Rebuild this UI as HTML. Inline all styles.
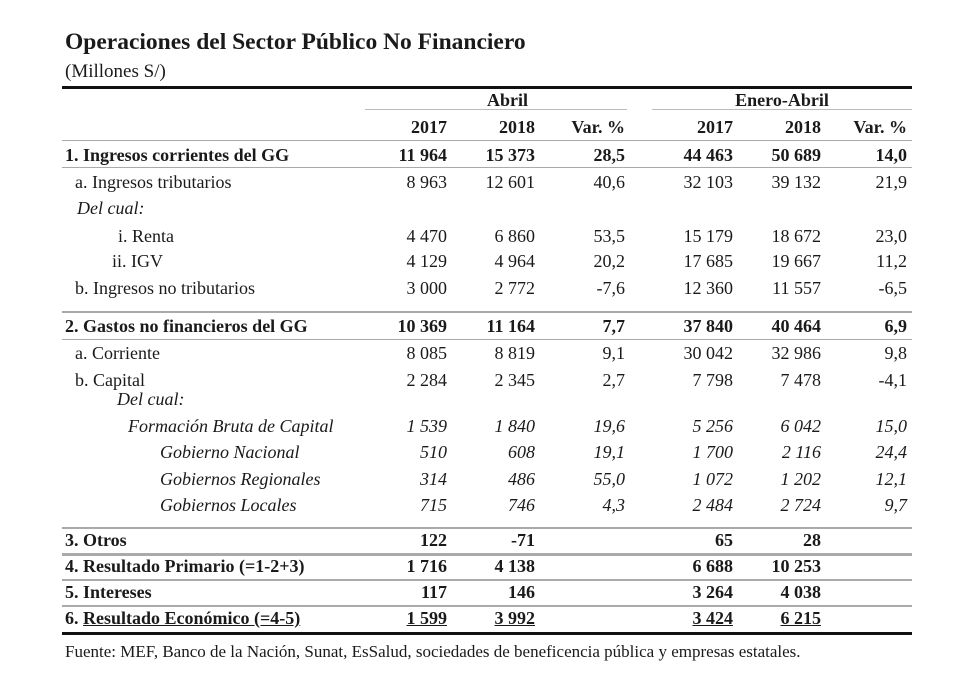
<!DOCTYPE html>
<html><head><meta charset="utf-8">
<style>
body{margin:0;background:#fff;}
#wrap{position:relative;width:980px;height:683px;background:#fff;font-family:"Liberation Serif",serif;color:#1a1a1a;overflow:hidden;}
.t{position:absolute;white-space:nowrap;font-size:18px;line-height:20px;}
.r{text-align:right;width:140px;}
.b{font-weight:bold;}
.i{font-style:italic;}
.u{text-decoration:underline;}
.ln{position:absolute;left:62px;width:850px;background:#aaa;height:2px;}
</style></head><body>
<div id="wrap">
<div class="t b" style="left:65px;top:30px;font-size:23.5px;line-height:24px">Operaciones del Sector Público No Financiero</div>
<div class="t" style="left:65px;top:62px;font-size:19px">(Millones S/)</div>
<div class="ln" style="top:86px;height:3px;background:#111"></div>
<div class="t b" style="left:365px;width:285px;text-align:center;top:90px">Abril</div>
<div class="ln" style="top:109px;left:365px;width:262px;height:1px;background:#bbb"></div>
<div class="t b" style="left:652px;width:260px;text-align:center;top:90px">Enero-Abril</div>
<div class="ln" style="top:109px;left:652px;width:260px;height:1px;background:#bbb"></div>
<div class="ln" style="top:632px;height:3px;background:#111"></div>
<div class="t" style="left:65px;top:642px;font-size:17px">Fuente: MEF, Banco de la Nación, Sunat, EsSalud, sociedades de beneficencia pública y empresas estatales.</div>
</div>
<script>
const colRight=[447,535,625,733,821,907];
const headerYears=['2017','2018','Var. %','2017','2018','Var. %'];
const rowLabels=['1. Ingresos corrientes del GG','a. Ingresos tributarios','Del cual:','i. Renta','ii. IGV','b. Ingresos no tributarios','2. Gastos no financieros del GG','a. Corriente','b. Capital','Del cual:','Formación Bruta de Capital','Gobierno Nacional','Gobiernos Regionales','Gobiernos Locales','3. Otros','4. Resultado Primario (=1-2+3)','5. Intereses','6. Resultado Económico (=4-5)'];
const rowValues=[
['11 964','15 373','28,5','44 463','50 689','14,0'],
['8 963','12 601','40,6','32 103','39 132','21,9'],
['','','','','',''],
['4 470','6 860','53,5','15 179','18 672','23,0'],
['4 129','4 964','20,2','17 685','19 667','11,2'],
['3 000','2 772','-7,6','12 360','11 557','-6,5'],
['10 369','11 164','7,7','37 840','40 464','6,9'],
['8 085','8 819','9,1','30 042','32 986','9,8'],
['2 284','2 345','2,7','7 798','7 478','-4,1'],
['','','','','',''],
['1 539','1 840','19,6','5 256','6 042','15,0'],
['510','608','19,1','1 700','2 116','24,4'],
['314','486','55,0','1 072','1 202','12,1'],
['715','746','4,3','2 484','2 724','9,7'],
['122','-71','','65','28',''],
['1 716','4 138','','6 688','10 253',''],
['117','146','','3 264','4 038',''],
['1 599','3 992','','3 424','6 215','']];
const rowY=[155,182,208,236,261,288,326,353,380,399,426,452,479,505,540,566,592,618];
const rowX=[65,75,77,118,112,75,65,75,75,117,128,160,160,160,65,65,65,65];
const rowStyle=['b','','i','','','','b','','','i','i','i','i','i','b','b','b','b'];
const rules=[140,167,311,339,527,553,579,605];
const W=document.getElementById('wrap');
function mk(txt,cls,x,y,right){const d=document.createElement('div');d.className='t '+cls+(right?' r':'');d.textContent=txt;d.style.left=(right?x-140:x)+'px';d.style.top=(y-10)+'px';W.appendChild(d);return d;}
headerYears.forEach((h,j)=>{const d=mk(h,'b',colRight[j],127,true);

});
rules.forEach((y,k)=>{const l=document.createElement('div');l.className='ln';l.style.top=y+'px';if(k==5)l.style.height='3px';if(k<2||k==3)l.style.height='1px';


W.appendChild(l);});
rowLabels.forEach((lab,i)=>{
const u=i==17;
const d=mk(lab,rowStyle[i],rowX[i],rowY[i],false);


if(u){d.innerHTML='6. <span class="u">Resultado Económico (=4-5)</span>';}
rowValues[i].forEach((v,j)=>{if(!v)return;const c=mk(v,rowStyle[i]+(u?' u':''),colRight[j],rowY[i],true);

});
});
</script>
</body></html>
